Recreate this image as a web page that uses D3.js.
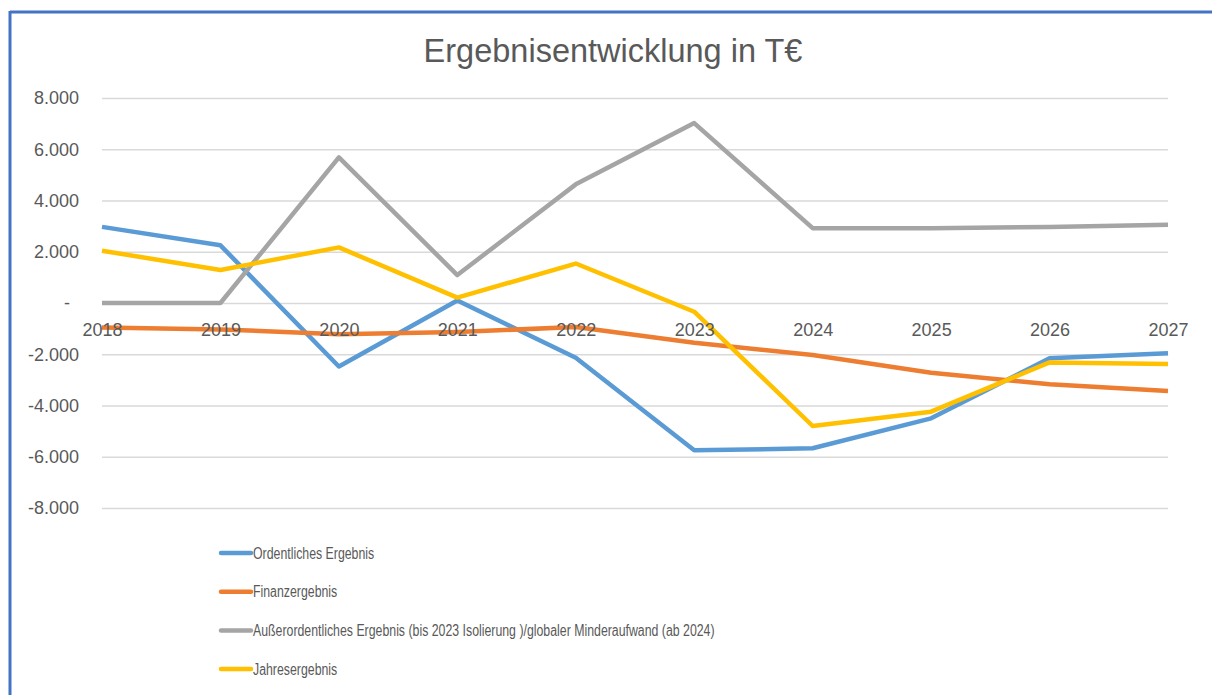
<!DOCTYPE html>
<html>
<head>
<meta charset="utf-8">
<script src="https://d3js.org/d3.v7.min.js"></script>
<style>
body { margin: 0; background: #fff; }
text { font-family: "Liberation Sans", Arial, sans-serif; fill: #595959; }
</style>
</head>
<body>
<div id="chart"></div>
<script>
// values (T€)
const years = ["2018","2019","2020","2021","2022","2023","2024","2025","2026","2027"];
const ordentlich = [2970, 2250, -2480, 100, -2140, -5750, -5670, -4500, -2160, -1960];
const finanz = [-960, -1030, -1220, -1130, -940, -1550, -2030, -2720, -3170, -3430];
const ausserordentlich = [0, 0, 5680, 1090, 4630, 7020, 2920, 2920, 2970, 3050];
const jahres = [2040, 1290, 2170, 210, 1540, -340, -4800, -4240, -2320, -2380];
const yTicks = [-8000, -6000, -4000, -2000, 0, 2000, 4000, 6000, 8000];

const seriesNames = [
  "Ordentliches Ergebnis",
  "Finanzergebnis",
  "Außerordentliches Ergebnis (bis 2023 Isolierung )/globaler Minderaufwand (ab 2024)",
  "Jahresergebnis"
];
const seriesValues = [ordentlich, finanz, ausserordentlich, jahres];
const colors = ["#5B9BD5", "#ED7D31", "#A5A5A5", "#FFC000"];

const W = 1212, H = 695;
const svg = d3.select("#chart").append("svg")
  .attr("width", W).attr("height", H);

// frame (only top and left edge visible)
svg.append("line").attr("x1", 10).attr("x2", W).attr("y1", 12).attr("y2", 12)
  .attr("stroke", "#4472C4").attr("stroke-width", 3);
svg.append("line").attr("x1", 10).attr("x2", 10).attr("y1", 11).attr("y2", H)
  .attr("stroke", "#4472C4").attr("stroke-width", 3);

svg.append("text")
  .attr("x", 613).attr("y", 62)
  .attr("text-anchor", "middle")
  .style("font-size", "32.5px")
  .text("Ergebnisentwicklung in T€");

const x = d3.scalePoint().domain(years).range([102, 1168]);
const y = d3.scaleLinear().domain([-8000, 8000]).range([508, 98]);

const fmt = v => v === 0 ? "-" : d3.format(",")(v).replace(/,/g, ".").replace("−", "-");

// gridlines + y labels
const yAxis = svg.append("g")
  .attr("transform", "translate(102,0)")
  .call(d3.axisLeft(y).tickValues(yTicks).tickSize(-1066).tickPadding(23).tickFormat(fmt));
yAxis.select(".domain").remove();
yAxis.selectAll(".tick line").attr("stroke", "#d9d9d9").attr("stroke-width", 1.5);
yAxis.selectAll(".tick text")
  .style("font-family", "'Liberation Sans', Arial, sans-serif")
  .style("font-size", "18px").attr("fill", "#595959")
  .attr("dx", d => d === 0 ? -9 : 0);

const line = d3.line()
  .x((d, i) => x(years[i]))
  .y(d => y(d));

svg.selectAll(".series")
  .data(seriesValues)
  .enter().append("path")
  .attr("class", "series")
  .attr("d", line)
  .attr("fill", "none")
  .attr("stroke", (d, i) => colors[i])
  .attr("stroke-width", 4.5)
  .attr("stroke-linejoin", "round");

// category labels sit on the zero line, drawn above the lines
const xAxis = svg.append("g")
  .attr("transform", "translate(0," + y(0) + ")")
  .call(d3.axisBottom(x).tickSize(0).tickPadding(20));
xAxis.select(".domain").remove();
xAxis.selectAll(".tick text")
  .style("font-family", "'Liberation Sans', Arial, sans-serif")
  .style("font-size", "18px").attr("fill", "#595959");

// legend
const legend = svg.selectAll(".legend")
  .data(seriesNames)
  .enter().append("g")
  .attr("class", "legend")
  .attr("transform", (d, i) => "translate(221," + (553 + i * 38.7) + ")");
legend.append("line")
  .attr("x1", 0).attr("x2", 30)
  .attr("stroke", (d, i) => colors[i])
  .attr("stroke-width", 4.5).attr("stroke-linecap", "round");
legend.append("text")
  .attr("x", 32).attr("dy", "0.35em")
  .style("font-size", "16px")
  .text(d => d)
  .each(function() {
    // squeeze a bit toward the narrow look of the original legend font
    const w = this.getComputedTextLength();
    d3.select(this).attr("textLength", w * 0.77).attr("lengthAdjust", "spacingAndGlyphs");
  });
</script>
</body>
</html>
